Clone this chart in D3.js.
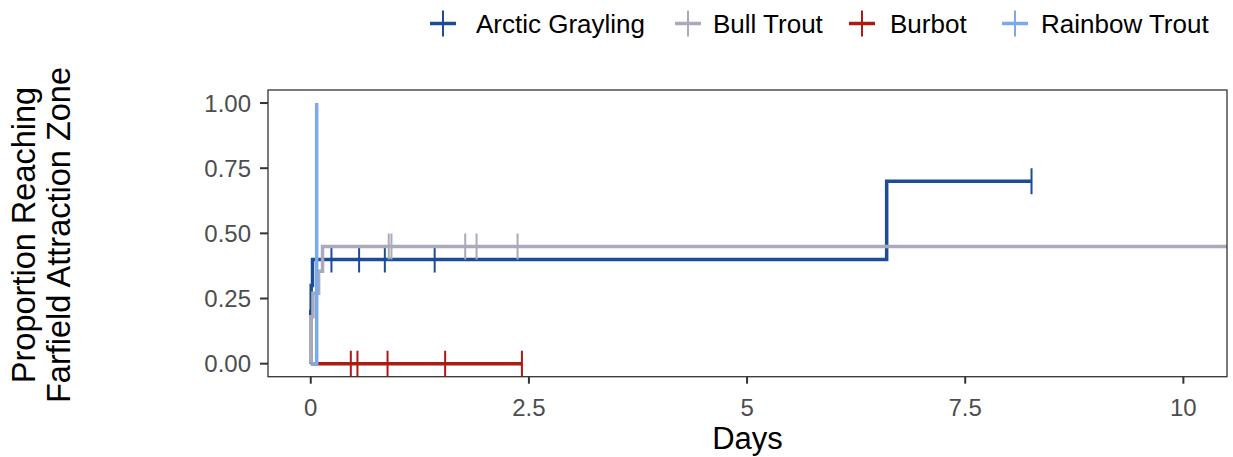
<!DOCTYPE html>
<html>
<head>
<meta charset="utf-8">
<script src="https://cdn.jsdelivr.net/npm/d3@7"></script>
<style>
  html, body { margin: 0; padding: 0; background: #ffffff; }
  svg { display: block; font-family: "Liberation Sans", Arial, sans-serif; }
</style>
</head>
<body>
<svg id="chart" width="1233" height="457"></svg>
<script>
// ---- data ----
const species = ["Arctic Grayling", "Bull Trout", "Burbot", "Rainbow Trout"];
const colors = ["#1c4c96", "#aaaabc", "#ad1a12", "#79aaec"];

// step curves: event times and cumulative proportion after each time
const graylingTimes = [0, 0, 0.005, 0.02, 6.60, 8.26];
const graylingProp  = [0, 0.2, 0.3, 0.4, 0.7, 0.7];
const bullTimes = [0, 0, 0.025, 0.09, 0.135, 12];
const bullProp  = [0, 0.18, 0.27, 0.355, 0.45, 0.45];
const burbotTimes = [0, 2.42];
const burbotProp  = [0, 0];
const rainbowTimes = [0, 0.068];
const rainbowProp  = [0, 1.0];

// censoring times
const graylingCensor = [0.237, 0.554, 0.849, 1.42, 8.26];
const bullCensor = [0.894, 0.925, 1.77, 1.90, 2.37];
const burbotCensor = [0.459, 0.535, 0.88, 1.54, 2.42];
const rainbowCensor = [];

const xTicks = [0, 2.5, 5, 7.5, 10];
const xTickLabels = ["0", "2.5", "5", "7.5", "10"];
const yTicks = [0, 0.25, 0.5, 0.75, 1];
const yTickLabels = ["0.00", "0.25", "0.50", "0.75", "1.00"];
const xTitle = "Days";
const yTitle = ["Proportion Reaching", "Farfield Attraction Zone"];

// ---- build ----
const series = [
  {name: species[0], color: colors[0], t: graylingTimes, p: graylingProp, c: graylingCensor},
  {name: species[1], color: colors[1], t: bullTimes, p: bullProp, c: bullCensor},
  {name: species[2], color: colors[2], t: burbotTimes, p: burbotProp, c: burbotCensor},
  {name: species[3], color: colors[3], t: rainbowTimes, p: rainbowProp, c: rainbowCensor}
];

const svg = d3.select("#chart");
const P = {left: 268, right: 1227, top: 90, bottom: 376.7};

const x = d3.scaleLinear().domain([-0.49, 10.5]).range([P.left, P.right]);
const y = d3.scaleLinear().domain([-0.05, 1.05]).range([P.bottom, P.top]);

svg.append("defs").append("clipPath").attr("id", "clip")
  .append("rect").attr("x", P.left).attr("y", P.top)
  .attr("width", P.right - P.left).attr("height", P.bottom - P.top);

const plot = svg.append("g").attr("clip-path", "url(#clip)");

const line = d3.line().x(d => x(d[0])).y(d => y(d[1])).curve(d3.curveStepAfter);

function stepValue(s, t) {
  let v = 0;
  for (let i = 0; i < s.t.length; i++) if (s.t[i] <= t) v = s.p[i];
  return v;
}

series.forEach(s => {
  const pts = s.t.map((t, i) => [t, s.p[i]]);
  plot.append("path").datum(pts)
    .attr("d", line)
    .attr("fill", "none")
    .attr("stroke", s.color)
    .attr("stroke-width", 3.5)
    .attr("stroke-linejoin", "miter");
  plot.selectAll(null).data(s.c).enter().append("line")
    .attr("x1", d => x(d)).attr("x2", d => x(d))
    .attr("y1", d => y(stepValue(s, d)) - 13)
    .attr("y2", d => y(stepValue(s, d)) + 13)
    .attr("stroke", s.color)
    .attr("stroke-width", 2);
});

// panel border
svg.append("rect")
  .attr("x", P.left).attr("y", P.top)
  .attr("width", P.right - P.left).attr("height", P.bottom - P.top)
  .attr("fill", "none").attr("stroke", "#333333").attr("stroke-width", 1.3);

// x axis
const xAxis = svg.append("g");
xAxis.selectAll("line").data(xTicks).enter().append("line")
  .attr("x1", d => x(d)).attr("x2", d => x(d))
  .attr("y1", P.bottom).attr("y2", P.bottom + 7)
  .attr("stroke", "#333333").attr("stroke-width", 2);
xAxis.selectAll("text").data(xTicks).enter().append("text")
  .attr("x", d => x(d)).attr("y", 416)
  .attr("text-anchor", "middle")
  .attr("font-size", 24).attr("fill", "#4d4d4d")
  .text((d, i) => xTickLabels[i]);

// y axis
const yAxis = svg.append("g");
yAxis.selectAll("line").data(yTicks).enter().append("line")
  .attr("x1", P.left - 8).attr("x2", P.left)
  .attr("y1", d => y(d)).attr("y2", d => y(d))
  .attr("stroke", "#333333").attr("stroke-width", 2);
yAxis.selectAll("text").data(yTicks).enter().append("text")
  .attr("x", 251).attr("y", d => y(d) + 8.5)
  .attr("text-anchor", "end")
  .attr("font-size", 24).attr("fill", "#4d4d4d")
  .text((d, i) => yTickLabels[i]);

// titles
svg.append("text").attr("x", (P.left + P.right) / 2).attr("y", 449)
  .attr("text-anchor", "middle").attr("font-size", 31).attr("fill", "#000")
  .text(xTitle);
yTitle.forEach((t, i) => {
  svg.append("text")
    .attr("transform", `translate(${35 + i * 35},235) rotate(-90)`)
    .attr("text-anchor", "middle").attr("font-size", 32.5).attr("fill", "#000")
    .text(t);
});

// legend
const legendKeyX = [443, 688, 862, 1015];
const legendTextX = [476, 713, 890, 1041];
const legendY = 23.5;
const lg = svg.append("g");
series.forEach((s, i) => {
  lg.append("line").attr("x1", legendKeyX[i] - 13).attr("x2", legendKeyX[i] + 13)
    .attr("y1", legendY).attr("y2", legendY)
    .attr("stroke", s.color).attr("stroke-width", 3.5);
  lg.append("line").attr("x1", legendKeyX[i]).attr("x2", legendKeyX[i])
    .attr("y1", legendY - 13).attr("y2", legendY + 13)
    .attr("stroke", s.color).attr("stroke-width", 2);
  lg.append("text").attr("x", legendTextX[i]).attr("y", legendY + 9.5)
    .attr("font-size", 26).attr("fill", "#000")
    .text(s.name);
});
</script>
</body>
</html>
